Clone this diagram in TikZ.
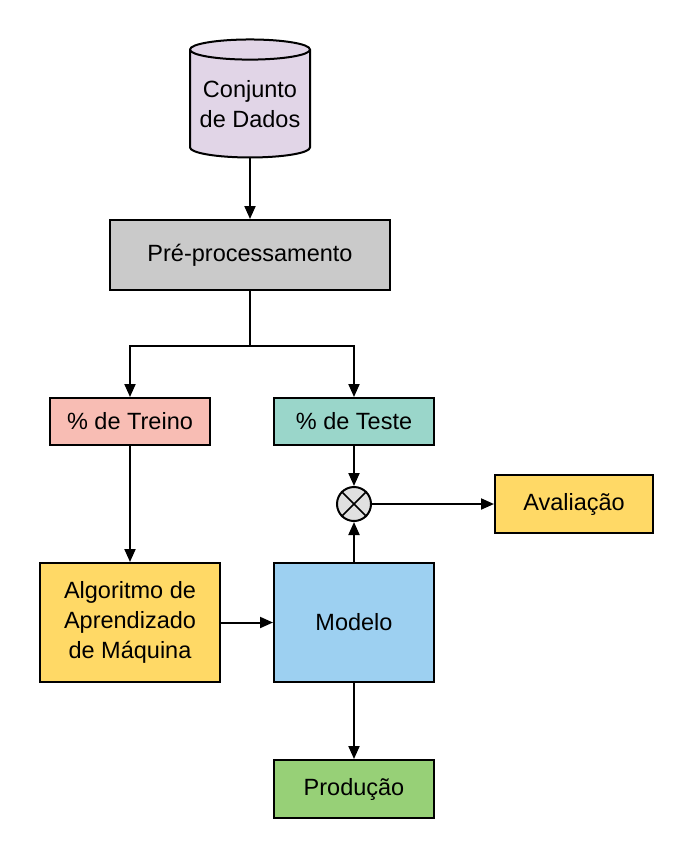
\documentclass[tikz,border=0pt]{standalone}
\usepackage{fontspec}
\setmainfont{Liberation Sans}
\usetikzlibrary{positioning, arrows.meta, shapes.geometric, calc}

\definecolor{dataclr}{HTML}{E1D5E7}
\definecolor{prepclr}{HTML}{CACACA}
\definecolor{treinoclr}{HTML}{F8BDB4}
\definecolor{testeclr}{HTML}{9AD6CA}
\definecolor{goldclr}{HTML}{FFD966}
\definecolor{modelclr}{HTML}{9DD0F1}
\definecolor{prodclr}{HTML}{97D077}
\definecolor{multclr}{HTML}{E0E0E0}

\begin{document}
\begin{tikzpicture}[
            x=1pt, y=-1pt,
            box/.style={rectangle, draw, line width=2pt, minimum width=160pt,
                        minimum height=47pt, inner sep=0pt, align=center,
                        font=\fontsize{23.5}{30}\selectfont},
            arrow/.style={-{Triangle[length=13pt, width=11pt]}, line width=2pt},
        ]
            \useasboundingbox (0,0) rectangle (695,860);

            % Data source and pre-processing
            \node[cylinder, shape border rotate=90, draw, line width=2pt, fill=dataclr,
                  aspect=0.2, minimum width=120pt, minimum height=118pt, inner sep=0pt,
                  align=center, font=\fontsize{23.5}{30}\selectfont] (data) at (250,104) {Conjunto\\de Dados};
            \node[box, fill=prepclr, minimum width=280pt, minimum height=70pt] (prep) at (250,255) {Pré-processamento};

            % Split into train and test
            \node[box, fill=treinoclr] (treino) at (130,421.5) {\% de Treino};
            \node[box, fill=testeclr]  (teste)  at (354,421.5) {\% de Teste};

            % Comparison and evaluation
            \node[circle, draw, line width=2pt, fill=multclr, minimum size=34pt, inner sep=0pt] (mult) at (354,504) {};
            \draw[line width=1.5pt] (mult.north west) -- (mult.south east);
            \draw[line width=1.5pt] (mult.north east) -- (mult.south west);
            \node[box, fill=goldclr, minimum width=158pt, minimum height=58pt] (aval) at (574,504) {Avaliação};

            % Learning and model
            \node[box, fill=goldclr, minimum width=180pt, minimum height=119pt] (algo) at (130,622.5) {Algoritmo de\\Aprendizado\\de Máquina};
            \node[box, fill=modelclr, minimum height=119pt] (modelo) at (354,622.5) {Modelo};
            \node[box, fill=prodclr, minimum height=58pt] (prod) at (354,789) {Produção};

            % Connectors
            \draw[arrow] (data.bottom) -- (prep.north);
            \draw[line width=2pt] (prep.south) -- ++(0,55) coordinate (split);
            \draw[arrow] (split) -| (treino.north);
            \draw[arrow] (split) -| (teste.north);
            \draw[arrow] (treino.south) -- (algo.north);
            \draw[arrow] (teste.south) -- (mult.north);
            \draw[arrow] (modelo.north) -- (mult.south);
            \draw[arrow] (mult.east) -- (aval.west);
            \draw[arrow] (algo.east) -- (modelo.west);
            \draw[arrow] (modelo.south) -- (prod.north);
        \end{tikzpicture}
\end{document}
